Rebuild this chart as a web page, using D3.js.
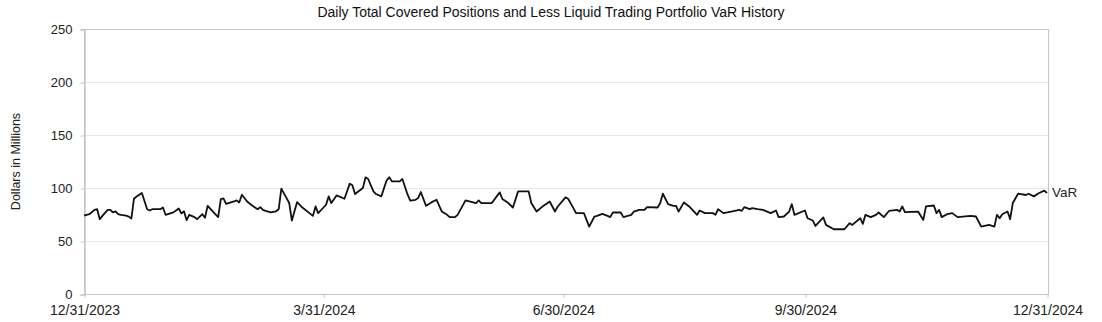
<!DOCTYPE html>
<html>
<head>
<meta charset="utf-8">
<script src="https://cdn.jsdelivr.net/npm/d3@7"></script>
<style>
  body { margin: 0; background: #fff; }
  svg { display: block; font-family: "Liberation Sans", Arial, sans-serif; }
</style>
</head>
<body>
<svg width="1102" height="322"></svg>
<script>
// Daily VaR (dollars in millions)
const dates = [
  "2023-12-31","2024-01-02","2024-01-04","2024-01-05","2024-01-06","2024-01-07","2024-01-09","2024-01-10",
  "2024-01-11","2024-01-12","2024-01-13","2024-01-14","2024-01-16","2024-01-17","2024-01-18","2024-01-19",
  "2024-01-20","2024-01-22","2024-01-24","2024-01-25","2024-01-26","2024-01-29","2024-01-30","2024-01-31",
  "2024-02-03","2024-02-05","2024-02-06","2024-02-07","2024-02-08","2024-02-09","2024-02-11","2024-02-12",
  "2024-02-14","2024-02-15","2024-02-16","2024-02-18","2024-02-20","2024-02-21","2024-02-22","2024-02-23",
  "2024-02-26","2024-02-27","2024-02-28","2024-02-29","2024-03-02","2024-03-04","2024-03-06","2024-03-07",
  "2024-03-08","2024-03-09","2024-03-11","2024-03-13","2024-03-14","2024-03-15","2024-03-18","2024-03-19",
  "2024-03-21","2024-03-23","2024-03-27","2024-03-28","2024-03-29","2024-04-01","2024-04-02","2024-04-03",
  "2024-04-05","2024-04-08","2024-04-10","2024-04-11","2024-04-12","2024-04-15","2024-04-16","2024-04-17",
  "2024-04-19","2024-04-20","2024-04-22","2024-04-24","2024-04-25","2024-04-26","2024-04-29","2024-04-30",
  "2024-05-02","2024-05-03","2024-05-05","2024-05-06","2024-05-07","2024-05-09","2024-05-11","2024-05-13",
  "2024-05-15","2024-05-17","2024-05-18","2024-05-20","2024-05-21","2024-05-24","2024-05-28","2024-05-29",
  "2024-05-30","2024-06-03","2024-06-06","2024-06-07","2024-06-09","2024-06-11","2024-06-13","2024-06-17",
  "2024-06-18","2024-06-20","2024-06-22","2024-06-25","2024-06-27","2024-06-28","2024-07-01","2024-07-02",
  "2024-07-04","2024-07-05","2024-07-08","2024-07-10","2024-07-12","2024-07-13","2024-07-15","2024-07-17",
  "2024-07-18","2024-07-19","2024-07-22","2024-07-23","2024-07-26","2024-07-27","2024-07-29","2024-07-31",
  "2024-08-01","2024-08-05","2024-08-06","2024-08-07","2024-08-09","2024-08-11","2024-08-12","2024-08-13",
  "2024-08-15","2024-08-17","2024-08-20","2024-08-21","2024-08-23","2024-08-26","2024-08-27","2024-08-28",
  "2024-08-30","2024-09-02","2024-09-05","2024-09-06","2024-09-07","2024-09-09","2024-09-10","2024-09-12",
  "2024-09-14","2024-09-17","2024-09-19","2024-09-20","2024-09-22","2024-09-24","2024-09-25","2024-09-26",
  "2024-09-30","2024-10-01","2024-10-03","2024-10-04","2024-10-07","2024-10-08","2024-10-11","2024-10-15",
  "2024-10-17","2024-10-18","2024-10-21","2024-10-22","2024-10-23","2024-10-25","2024-10-27","2024-10-28",
  "2024-10-30","2024-11-01","2024-11-04","2024-11-05","2024-11-06","2024-11-07","2024-11-12","2024-11-14",
  "2024-11-15","2024-11-18","2024-11-19","2024-11-20","2024-11-21","2024-11-23","2024-11-25","2024-11-27",
  "2024-12-02","2024-12-04","2024-12-06","2024-12-09","2024-12-11","2024-12-12","2024-12-13","2024-12-14",
  "2024-12-16","2024-12-17","2024-12-18","2024-12-20","2024-12-23","2024-12-24","2024-12-26","2024-12-28",
  "2024-12-30","2024-12-31"
];
const vaR = [
  74, 75.3, 79.4, 80, 70.6, 73.7, 79.4, 79.4,
  77, 78, 75.3, 74.7, 74, 73, 71.2, 89.9,
  92, 95.3, 80, 78.8, 80, 80, 81.6, 74.7,
  77, 80.7, 76, 78, 69.6, 74.7, 72.5, 70.6,
  75.3, 72, 83.2, 77.8, 72.5, 89.6, 90.2, 85,
  87.3, 88.3, 86.4, 93.7, 87.3, 83.2, 80, 82,
  79.4, 78.5, 77, 78, 80, 99.4, 85.8, 69.3,
  86.7, 81.6, 73.7, 82.6, 76.3, 84.2, 92.1, 85.8,
  93, 89.9, 104.1, 102.5, 94.3, 100, 110.1, 108.5,
  96.8, 94.3, 92.1, 107, 110.1, 106.3, 106.3, 108.5,
  93.7, 88, 88.9, 90.5, 96.2, 83.2, 86.4, 88.9,
  77.8, 74.7, 72.5, 72.5, 74.7, 88.3, 85.8, 88.3,
  85.8, 85.8, 95.9, 89.6, 86.4, 81.6, 96.8, 96.8,
  85.8, 77.8, 82, 87.3, 77.8, 82.3, 91.1, 89.9,
  81, 76.3, 76.3, 63.6, 73.1, 73.7, 75.6, 73.7,
  72.5, 76.9, 76.9, 72.5, 74.7, 77.8, 79.4, 79.4,
  82, 81.6, 85.8, 94.6, 84.8, 83.2, 83.2, 77.8,
  86.4, 82.6, 74.7, 78.8, 76.3, 76.3, 74.7, 80,
  76.3, 77.8, 79.4, 78.5, 82, 80, 81, 80,
  79.4, 76.3, 78.8, 72.5, 73.1, 77.8, 84.8, 74.7,
  78.8, 71.5, 69.3, 64.2, 72.2, 65.2, 61.1, 61.1,
  66.8, 65.2, 71.5, 66.1, 74.7, 72.5, 74.7, 76.9,
  72.5, 78.5, 79.4, 77.8, 82.6, 77.2, 77.8, 69.9,
  82.6, 83.5, 76.3, 79.4, 72.5, 75.3, 76.3, 72.5,
  73.7, 73.1, 63.6, 65.2, 63.6, 74.7, 71.5, 75.3,
  77.8, 70.6, 85.8, 94.6, 93.4, 94.6, 92.1, 95.3,
  97.5, 95.3
];
const yTicks = [0, 50, 100, 150, 200, 250];
const xTicks = ["2023-12-31", "2024-03-31", "2024-06-30", "2024-09-30", "2024-12-31"];
const seriesName = "VaR";

const parse = d3.timeParse("%Y-%m-%d");
const data = dates.map((d, i) => ({ date: parse(d), value: vaR[i] }));

const svg = d3.select("svg");
const plotLeft = 84, plotRight = 1048, plotTop = 29, plotBottom = 294;

const x = d3.scaleTime().domain([parse(xTicks[0]), parse(xTicks[xTicks.length - 1])]).range([plotLeft, plotRight - 1]);
const y = d3.scaleLinear().domain([0, 250]).range([plotBottom, plotTop]);

// gridlines
svg.append("g").selectAll("line").data(yTicks.slice(1, -1)).join("line")
  .attr("x1", plotLeft).attr("x2", plotRight)
  .attr("y1", d => y(d) + 0.5).attr("y2", d => y(d) + 0.5)
  .attr("stroke", "#e8e8e8");

// frame
svg.append("rect")
  .attr("x", plotLeft + 0.5).attr("y", plotTop + 0.5)
  .attr("width", plotRight - plotLeft).attr("height", plotBottom - plotTop)
  .attr("fill", "none").attr("stroke", "#c6c6c6");

// y axis
const axisY = d3.axisLeft(y).tickValues(yTicks).tickSize(4).tickPadding(8);
const gy = svg.append("g").attr("transform", `translate(${plotLeft + 0.5},0.5)`).call(axisY);
gy.select(".domain").attr("stroke", "#c6c6c6").attr("stroke-width", 1.5);
gy.selectAll(".tick line").attr("stroke", "#c6c6c6");
gy.selectAll("text").attr("font-size", 13).attr("fill", "#222").attr("font-family", "Liberation Sans, Arial, sans-serif");

// x axis
const fmt = d3.timeFormat("%-m/%-d/%Y");
const axisX = d3.axisBottom(x).tickValues(xTicks.map(parse)).tickFormat(fmt).tickSize(3).tickPadding(8);
const gx = svg.append("g").attr("transform", `translate(0.5,${plotBottom + 0.5})`).call(axisX);
gx.select(".domain").remove();
gx.selectAll(".tick line").attr("stroke", "#c6c6c6");
gx.selectAll("text").attr("font-size", 14).attr("fill", "#222").attr("font-family", "Liberation Sans, Arial, sans-serif");

// line
svg.append("path").datum(data)
  .attr("fill", "none").attr("stroke", "#111").attr("stroke-width", 1.8)
  .attr("stroke-linejoin", "round")
  .attr("d", d3.line().x(d => x(d.date)).y(d => y(d.value)));

// series label at end of line
const last = data[data.length - 1];
svg.append("text")
  .attr("x", x(last.date) + 5).attr("y", y(last.value) + 4)
  .attr("font-size", 13.5).attr("fill", "#222").text(seriesName);

// title
svg.append("text")
  .attr("x", 551).attr("y", 17).attr("text-anchor", "middle")
  .attr("font-size", 14).attr("fill", "#111")
  .text("Daily Total Covered Positions and Less Liquid Trading Portfolio VaR History");

// y label
svg.append("text")
  .attr("transform", `translate(20,${(plotTop + plotBottom) / 2}) rotate(-90)`)
  .attr("text-anchor", "middle").attr("font-size", 12.5).attr("fill", "#222")
  .text("Dollars in Millions");
</script>
</body>
</html>
